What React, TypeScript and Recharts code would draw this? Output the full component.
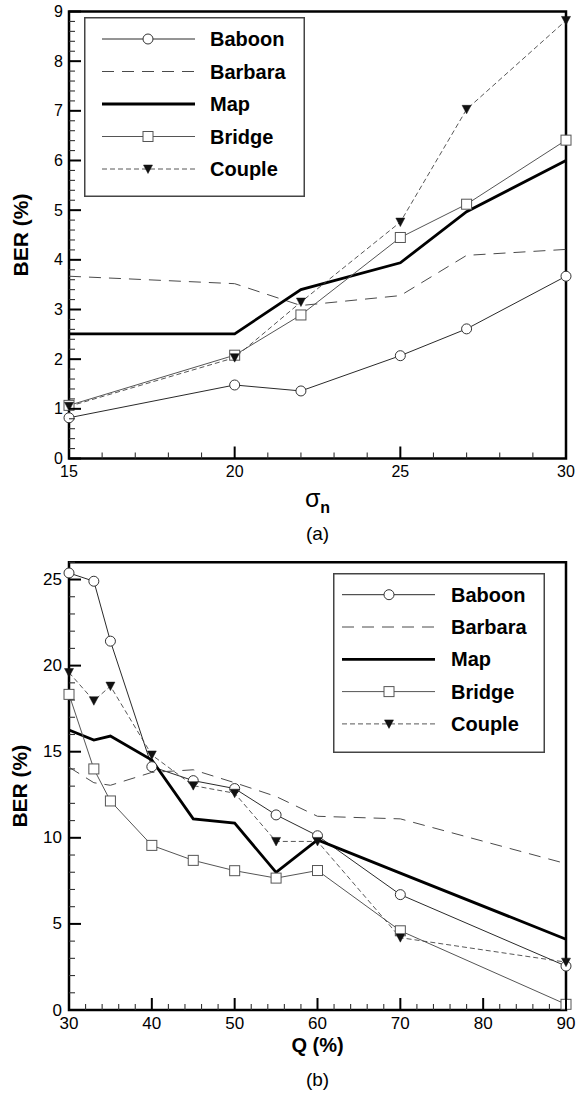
import React from 'react';
import { LineChart, Line, XAxis, YAxis, ReferenceArea, Legend } from 'recharts';

const FONT = '"Liberation Sans", Arial, Helvetica, sans-serif';

// ---------- Chart (a): BER vs sigma_n ----------
const sigmaValues = [15, 20, 22, 25, 27, 30];
const aBaboon = [0.82, 1.48, 1.36, 2.07, 2.61, 3.67];
const aBarbara = [3.67, 3.52, 3.08, 3.28, 4.09, 4.21];
const aMap = [2.51, 2.51, 3.4, 3.94, 4.97, 6.0];
const aBridge = [1.07, 2.08, 2.89, 4.45, 5.12, 6.41];
const aCouple = [1.05, 2.03, 3.15, 4.76, 7.03, 8.82];
const aXMajor = [15, 20, 25, 30];
const aYMajor = [0, 1, 2, 3, 4, 5, 6, 7, 8, 9];

// ---------- Chart (b): BER vs Q ----------
const qValues = [30, 33, 35, 40, 45, 50, 55, 60, 70, 90];
const bBaboon = [25.38, 24.9, 21.42, 14.13, 13.32, 12.86, 11.33, 10.12, 6.7, 2.55];
const bBarbara = [14.1, 13.2, 13.05, 13.8, 13.95, 13.2, 12.4, 11.25, 11.1, 8.5];
const bMap = [16.26, 15.68, 15.91, 14.52, 11.1, 10.85, 7.99, 9.88, 7.95, 4.11];
const bBridge = [18.33, 14.0, 12.14, 9.56, 8.69, 8.09, 7.66, 8.1, 4.6, 0.33];
const bCouple = [19.6, 17.96, 18.81, 14.81, 13.03, 12.59, 9.79, 9.79, 4.2, 2.78];
const bXMajor = [30, 40, 50, 60, 70, 80, 90];
const bYMajor = [0, 5, 10, 15, 20, 25];

const seriesNames = ['Baboon', 'Barbara', 'Map', 'Bridge', 'Couple'];

function buildRows(xs: number[], cols: number[][]) {
  return xs.map((x, i) => {
    const row: any = { x };
    seriesNames.forEach((n, k) => (row[n] = cols[k][i]));
    return row;
  });
}
function minorTicks(lo: number, hi: number, step: number) {
  const out: number[] = [];
  const n = Math.round((hi - lo) / step);
  for (let i = 0; i <= n; i++) out.push(Math.round((lo + i * step) * 1000) / 1000);
  return out;
}

const dataA = buildRows(sigmaValues, [aBaboon, aBarbara, aMap, aBridge, aCouple]);
const dataB = buildRows(qValues, [bBaboon, bBarbara, bMap, bBridge, bCouple]);

// ---------- styles ----------
const STYLE: Record<string, any> = {
  Baboon: { stroke: '#2a2a2a', width: 1, dash: undefined, marker: 'circle' },
  Barbara: { stroke: '#4a4a4a', width: 1, dash: '12 8', marker: 'none' },
  Map: { stroke: '#000', width: 2.8, dash: undefined, marker: 'none' },
  Bridge: { stroke: '#555', width: 1, dash: undefined, marker: 'square' },
  Couple: { stroke: '#444', width: 0.9, dash: '5 3', marker: 'tri' },
};

function Marker({ kind, cx, cy }: { kind: string; cx: number; cy: number }) {
  if (kind === 'circle')
    return <circle cx={cx} cy={cy} r={5} fill="#fff" stroke="#333" strokeWidth={1} />;
  if (kind === 'square')
    return <rect x={cx - 5} y={cy - 5} width={10} height={10} fill="#fff" stroke="#555" strokeWidth={1} />;
  if (kind === 'tri')
    return <path d={`M${cx - 4.5},${cy - 4} L${cx + 4.5},${cy - 4} L${cx},${cy + 4.5} Z`} fill="#111" stroke="#111" strokeWidth={0.5} />;
  return null;
}

const makeDot = (kind: string) => (p: any) => {
  if (p.cx == null || p.cy == null) return <g key={p.key} />;
  return (
    <g key={p.key}>
      <Marker kind={kind} cx={p.cx} cy={p.cy} />
    </g>
  );
};

const isMajor = (majors: number[], v: number) => majors.some((m) => Math.abs(m - v) < 1e-6);

const makeXTick = (majors: number[], fontSize: number, dy: number) => (props: any) => {
  const { x, y, payload } = props;
  const major = isMajor(majors, payload.value);
  return (
    <g>
      <line x1={x} x2={x} y1={y} y2={y - (major ? 12 : 6)} stroke={major ? '#000' : '#333'} strokeWidth={major ? 2 : 1.1} />
      {major && (
        <text x={x} y={y + dy} textAnchor="middle" dominantBaseline="central" fontSize={fontSize} fontFamily={FONT} fill="#000">
          {payload.value}
        </text>
      )}
    </g>
  );
};

const makeYTick = (majors: number[], fontSize: number, dx: number) => (props: any) => {
  const { x, y, payload } = props;
  const major = isMajor(majors, payload.value);
  return (
    <g>
      <line x1={x} x2={x + (major ? 12 : 6)} y1={y} y2={y} stroke={major ? '#000' : '#333'} strokeWidth={major ? 2 : 1.1} />
      {major && (
        <text x={x - dx} y={y} textAnchor="end" dominantBaseline="central" fontSize={fontSize} fontFamily={FONT} fill="#000">
          {payload.value}
        </text>
      )}
    </g>
  );
};

const makeLegend = (cfg: { w: number; h: number; y0: number; dy: number; lx1: number; lx2: number; mx: number; tx: number }) => (props: any) => {
  const payload = [...(props.payload || [])].sort(
    (a: any, b: any) => seriesNames.indexOf(a.value) - seriesNames.indexOf(b.value)
  );
  return (
    <div style={{ width: cfg.w, height: cfg.h, position: 'relative', background: '#fff' }}>
      <svg width={cfg.w} height={cfg.h} style={{ position: 'absolute', left: 0, top: 0, overflow: 'visible' }}>
        <rect x={0.75} y={0.75} width={cfg.w - 1.5} height={cfg.h - 1.5} fill="#fff" stroke="#444" strokeWidth={1.5} />
        {payload.map((item: any, i: number) => {
          const name = item.value;
          const s = STYLE[name];
          const y = cfg.y0 + i * cfg.dy;
          return (
            <g key={name}>
              <line x1={cfg.lx1} x2={cfg.lx2} y1={y} y2={y} stroke={s.stroke} strokeWidth={s.width} strokeDasharray={s.dash} />
              <Marker kind={s.marker} cx={cfg.mx} cy={y} />
              <text x={cfg.tx} y={y} dominantBaseline="central" fontSize={20} fontWeight="bold" fontFamily={FONT} fill="#000">
                {name}
              </text>
            </g>
          );
        })}
      </svg>
    </div>
  );
};

function renderLines() {
  return seriesNames.map((n) => {
    const s = STYLE[n];
    return (
      <Line
        key={n}
        type="linear"
        dataKey={n}
        name={n}
        stroke={s.stroke}
        strokeWidth={s.width}
        strokeDasharray={s.dash}
        dot={s.marker === 'none' ? false : makeDot(s.marker)}
        activeDot={false}
        isAnimationActive={false}
      />
    );
  });
}

const yTitle = (baselineX: number) => (props: any) => {
  const vb = props.viewBox || {};
  const cy = (vb.y ?? 0) + (vb.height ?? 0) / 2;
  return (
    <text
      x={baselineX}
      y={cy}
      transform={`rotate(-90 ${baselineX} ${cy})`}
      textAnchor="middle"
      fontSize={21}
      fontWeight="bold"
      fontFamily={FONT}
      fill="#000"
    >
      BER (%)
    </text>
  );
};

export default function App() {
  const W = 576;
  const HA = 545;
  const HB = 549;
  return (
    <div style={{ position: 'absolute', left: 0, top: 0, width: W, height: HA + HB, background: '#fff' }}>
      {/* Chart (a) */}
      <div style={{ position: 'absolute', left: 0, top: 0 }}>
        <LineChart width={W} height={HA} data={dataA} margin={{ top: 11.5, right: 10, left: 9, bottom: 56.5 }}>
          <XAxis
            dataKey="x"
            type="number"
            domain={[15, 30]}
            ticks={minorTicks(15, 30, 1)}
            interval={0}
            axisLine={false}
            tickLine={false}
            tickSize={0}
            tickMargin={0}
            height={30}
            tick={makeXTick(aXMajor, 16, 13)}
            label={{
              content: (p: any) => {
                const vb = p.viewBox || {};
                const cx = (vb.x ?? 69) + (vb.width ?? 497) / 2;
                const y0 = vb.y ?? 458.5;
                return (
                  <g>
                    <text x={cx} y={y0 + 48.5} textAnchor="middle" fontFamily={FONT} fill="#000">
                      <tspan fontSize={25}>σ</tspan>
                      <tspan fontSize={16} fontWeight="bold" dy={6}>n</tspan>
                    </text>
                    <text x={cx} y={y0 + 81.5} textAnchor="middle" fontSize={19} fontFamily={FONT} fill="#000">
                      (a)
                    </text>
                  </g>
                );
              },
            }}
          />
          <YAxis
            type="number"
            domain={[0, 9]}
            ticks={minorTicks(0, 9, 0.2)}
            interval={0}
            axisLine={false}
            tickLine={false}
            tickSize={0}
            tickMargin={0}
            width={60}
            tick={makeYTick(aYMajor, 16, 6)}
            label={{ content: yTitle(27.5) }}
          />
          <ReferenceArea x1={15} x2={30} y1={0} y2={9} fill="none" stroke="#000" strokeWidth={2.5} ifOverflow="visible" />
          {renderLines()}
          <Legend
            layout="vertical"
            align="center"
            verticalAlign="middle"
            wrapperStyle={{ left: 84, top: 17, width: 221, height: 180 }}
            content={makeLegend({ w: 221, h: 180, y0: 22, dy: 32.5, lx1: 18, lx2: 111, mx: 64, tx: 126 })}
          />
        </LineChart>
      </div>

      {/* Chart (b) */}
      <div style={{ position: 'absolute', left: 0, top: HA }}>
        <LineChart width={W} height={HB} data={dataB} margin={{ top: 17.3, right: 10, left: 9, bottom: 54 }}>
          <XAxis
            dataKey="x"
            type="number"
            domain={[30, 90]}
            ticks={minorTicks(30, 90, 2)}
            interval={0}
            axisLine={false}
            tickLine={false}
            tickSize={0}
            tickMargin={0}
            height={30}
            tick={makeXTick(bXMajor, 17, 13)}
            label={{
              content: (p: any) => {
                const vb = p.viewBox || {};
                const cx = (vb.x ?? 69) + (vb.width ?? 497) / 2;
                const y0 = vb.y ?? 465;
                return (
                  <g>
                    <text x={cx} y={y0 + 42} textAnchor="middle" fontSize={20} fontWeight="bold" fontFamily={FONT} fill="#000">
                      Q (%)
                    </text>
                    <text x={cx} y={y0 + 76} textAnchor="middle" fontSize={19} fontFamily={FONT} fill="#000">
                      (b)
                    </text>
                  </g>
                );
              },
            }}
          />
          <YAxis
            type="number"
            domain={[0, 26]}
            ticks={minorTicks(0, 26, 1)}
            interval={0}
            axisLine={false}
            tickLine={false}
            tickSize={0}
            tickMargin={0}
            width={60}
            tick={makeYTick(bYMajor, 17, 7)}
            label={{ content: yTitle(27) }}
          />
          <ReferenceArea x1={30} x2={90} y1={0} y2={26} fill="none" stroke="#000" strokeWidth={2.5} ifOverflow="visible" />
          {renderLines()}
          <Legend
            layout="vertical"
            align="center"
            verticalAlign="middle"
            wrapperStyle={{ left: 333, top: 28.3, width: 212, height: 180 }}
            content={makeLegend({ w: 212, h: 180, y0: 21.7, dy: 32.3, lx1: 9, lx2: 102, mx: 56, tx: 118 })}
          />
        </LineChart>
      </div>
    </div>
  );
}
